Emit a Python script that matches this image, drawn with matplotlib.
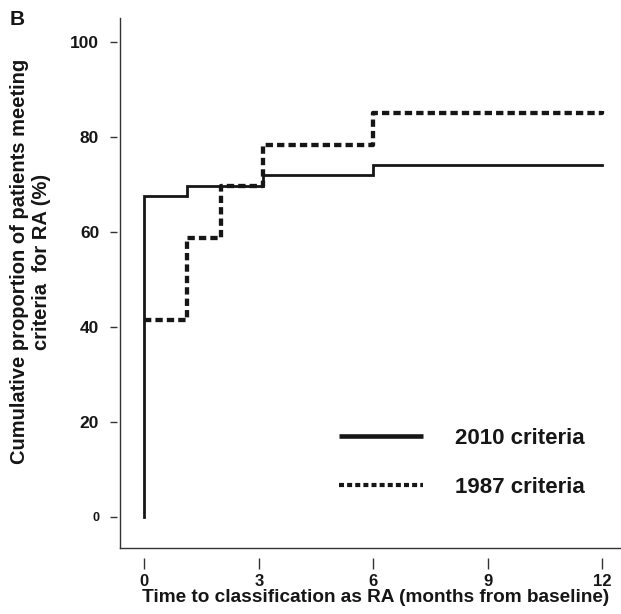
import matplotlib
matplotlib.use('Agg')
import matplotlib.pyplot as plt
from matplotlib.lines import Line2D

plt.rcParams['font.family'] = ['Liberation Sans', 'DejaVu Sans']
plt.rcParams['font.weight'] = 'bold'

# cumulative proportion meeting RA criteria (%), step curves over months
months_2010 = [0, 0, 1.13, 3.12, 6.0, 12.0]
pct_2010 = [0, 67.5, 69.7, 71.9, 74.0, 74.0]
months_1987 = [0, 1.13, 2.0, 3.1, 6.0, 12.0, 12.0]
pct_1987 = [41.4, 58.6, 69.7, 78.3, 84.9, 84.9, 85.5]

x_ticks = [0, 3, 6, 9, 12]
y_ticks = [0, 20, 40, 60, 80, 100]
labels = ['2010 criteria', '1987 criteria']

ink = '#161616'

fig = plt.figure(figsize=(6.21, 6.14), dpi=100)
ax = fig.add_axes([120/621, 1 - 548/614, 1 - 120/621, (548 - 18)/614])

ax.step(months_2010, pct_2010, where='post', color=ink, lw=2.0,
        solid_joinstyle='miter', clip_on=False)
ax.step(months_1987, pct_1987, where='post', color=ink, lw=3.1,
        dashes=(1.7, 0.95), dash_capstyle='butt', clip_on=False)

ax.set_xlim(-0.64, 12.5)
ax.set_ylim(-6.6, 105)
ax.set_xticks(x_ticks)
ax.set_yticks(y_ticks)

# ticks sit a little away from the axis lines
for side in ['top', 'right']:
    ax.spines[side].set_visible(False)
ax.spines['bottom'].set_position(('outward', 7))
ax.spines['left'].set_position(('outward', 2))
ax.spines['bottom'].set_visible(False)
ax.spines['left'].set_visible(False)
ax.plot([0, 1], [0, 0], transform=ax.transAxes, color='#333333', lw=1.0, clip_on=False)
ax.plot([0, 0], [0, 1], transform=ax.transAxes, color='#333333', lw=1.0, clip_on=False)

ax.tick_params(axis='x', length=8, width=1.0, color='#333333', pad=3.5,
               labelsize=12, labelcolor=ink)
ax.tick_params(axis='y', length=5, width=1.0, color='#333333', pad=8,
               labelsize=12.5, labelcolor=ink)
ax.get_yticklabels()[0].set_fontsize(9)

ax.set_xlabel('Time to classification as RA (months from baseline)',
              fontsize=13.7, fontweight='bold', color=ink)
ax.xaxis.set_label_coords(0.51, -0.077)
ax.set_ylabel('Cumulative proportion of patients meeting\ncriteria  for RA (%)',
              fontsize=14.5, fontweight='bold', color=ink, linespacing=1.2)
ax.yaxis.set_label_coords(-0.138, 0.54)

handles = [Line2D([], [], color=ink, lw=3.3, solid_capstyle='butt'),
           Line2D([], [], color=ink, lw=3.0, dashes=(1.2, 0.75), dash_capstyle='butt')]
ax.legend(handles, labels, loc='upper left', bbox_to_anchor=(339/621, 1 - 428/614),
          bbox_transform=fig.transFigure, frameon=False, fontsize=16,
          handlelength=3.8, handletextpad=1.4, labelspacing=1.25,
          borderpad=0, borderaxespad=0, labelcolor=ink)

fig.text(10/621, 1 - 25/614, 'B', fontsize=15, fontweight='bold', color=ink,
         va='baseline', ha='left')

fig.savefig('out.png', dpi=100)
